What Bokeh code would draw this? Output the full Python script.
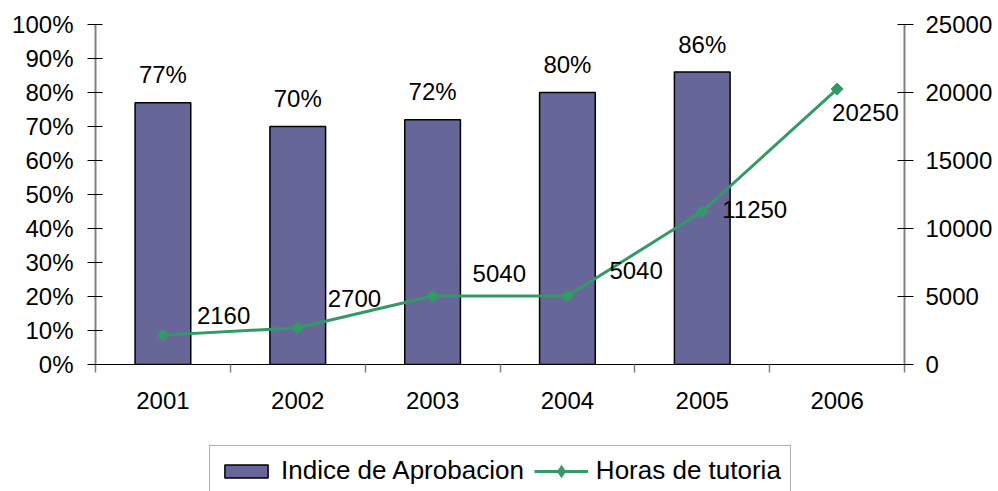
import math
from bokeh.plotting import figure
from bokeh.layouts import column
from bokeh.models import (Range1d, LinearAxis, FixedTicker, NumeralTickFormatter,
                          ColumnDataSource, Legend, LegendItem)
from bokeh.core.properties import value
from bokeh.embed import file_html
from bokeh.resources import INLINE

# ---- data ----
years = ["2001", "2002", "2003", "2004", "2005", "2006"]
approval = [0.77, 0.70, 0.72, 0.80, 0.86]          # Indice de Aprobacion (2001-2005)
approval_labels = ["77%", "70%", "72%", "80%", "86%"]
hours = [2160, 2700, 5040, 5040, 11250, 20250]      # Horas de tutoria
hour_labels = ["2160", "2700", "5040", "5040", "11250", "20250"]
left_ticks = [0, 0.1, 0.2, 0.3, 0.4, 0.5, 0.6, 0.7, 0.8, 0.9, 1.0]
right_ticks = [0, 5000, 10000, 15000, 20000, 25000]
series_names = ["Indice de Aprobacion", "Horas de tutoria"]

# label placement styles (screen px)
hour_label_dx = [34, 30, 40, 42, 20, -5]
hour_label_dy = [-20, -29, -22, -25, -2, 23]

FONT = "Liberation Sans"
BAR = "#666699"
GREEN = "#339966"

xs_bar = list(range(len(approval)))
xs_line = list(range(len(years)))

p = figure(width=998, height=440, output_backend="svg", toolbar_location=None,
           x_range=Range1d(-0.5, len(years) - 0.5), y_range=Range1d(0, 1),
           min_border_left=95, min_border_right=94, min_border_top=24,
           min_border_bottom=76)
p.outline_line_color = None
p.background_fill_color = "white"
p.border_fill_color = "white"
p.xgrid.visible = False
p.ygrid.visible = False
p.extra_y_ranges = {"right": Range1d(0, 25000)}

# x axis
xa = p.xaxis[0]
xa.ticker = FixedTicker(ticks=xs_line,
                        minor_ticks=[i - 0.5 for i in range(len(years) + 1)])
xa.major_label_overrides = {i: y for i, y in enumerate(years)}
xa.major_tick_line_color = None
xa.major_tick_in = 0
xa.major_tick_out = 0
xa.minor_tick_in = 0
xa.minor_tick_out = 8
xa.minor_tick_line_color = "#808080"
xa.minor_tick_line_width = 1.5
xa.axis_line_color = "black"
xa.axis_line_width = 1
xa.major_label_standoff = 19
xa.major_label_text_font = FONT
xa.major_label_text_font_size = "24px"
xa.major_label_text_color = "black"

# left axis
ya = p.yaxis[0]
ya.ticker = FixedTicker(ticks=left_ticks, minor_ticks=[])
ya.formatter = NumeralTickFormatter(format="0%")
ya.major_tick_in = 7
ya.major_tick_out = 8
ya.major_tick_line_color = "black"
ya.minor_tick_line_color = None
ya.axis_line_color = "#808080"
ya.axis_line_width = 2
ya.major_label_standoff = 14
ya.major_label_text_font = FONT
ya.major_label_text_font_size = "24px"
ya.major_label_text_color = "black"

# right axis
ra = LinearAxis(y_range_name="right",
                ticker=FixedTicker(ticks=right_ticks, minor_ticks=[]))
ra.major_tick_in = 7
ra.major_tick_out = 9
ra.major_tick_line_color = "black"
ra.minor_tick_line_color = None
ra.axis_line_color = "#808080"
ra.axis_line_width = 2
ra.major_label_standoff = 12
ra.major_label_text_font = FONT
ra.major_label_text_font_size = "24px"
ra.major_label_text_color = "black"
p.add_layout(ra, "right")

# bars
bar_src = ColumnDataSource(dict(x=xs_bar, y=approval, lab=approval_labels))
bars = p.vbar(x="x", top="y", width=0.413, bottom=0, source=bar_src,
              fill_color=BAR, line_color="black", line_width=1.5)
p.text(x="x", y="y", text="lab", source=bar_src, y_offset=-28,
       text_align="center", text_baseline="middle",
       text_font=value(FONT), text_font_size=value("24px"), text_color="black")

# line
line_src = ColumnDataSource(dict(x=xs_line, y=hours, lab=hour_labels,
                                 dx=hour_label_dx, dy=hour_label_dy))
ln = p.line(x="x", y="y", source=line_src, y_range_name="right",
            line_color=GREEN, line_width=3)
pts = p.scatter(x="x", y="y", source=line_src, y_range_name="right",
                marker="square", size=8.5, angle=math.pi / 4,
                fill_color=GREEN, line_color=GREEN)
p.text(x="x", y="y", text="lab", source=line_src, y_range_name="right",
       x_offset="dx", y_offset="dy", text_align="left", text_baseline="middle",
       text_font=value(FONT), text_font_size=value("24px"), text_color="black")

# legend strip below the chart (proxy glyphs sit outside its visible range)
lg = figure(width=998, height=51, output_backend="svg", toolbar_location=None,
            x_range=Range1d(0, 1), y_range=Range1d(0, 1),
            x_axis_location=None, y_axis_location=None,
            min_border=0)
lg.outline_line_color = None
lg.grid.visible = False
lg.background_fill_color = "white"
lg.border_fill_color = "white"
proxy = ColumnDataSource(dict(x=[0.5, 0.6], y=[-10, -11]))
lb = lg.vbar(x="x", top="y", bottom=-12, width=0.1, source=proxy,
             fill_color=BAR, line_color="black", line_width=1.5)
ll = lg.line(x="x", y="y", source=proxy, line_color=GREEN, line_width=3)
lp = lg.scatter(x="x", y="y", source=proxy, marker="diamond", size=10,
                fill_color=GREEN, line_color=GREEN, line_width=4,
                line_join="miter")

legend = Legend(items=[LegendItem(label=series_names[0], renderers=[lb]),
                       LegendItem(label=series_names[1], renderers=[ll, lp])],
                orientation="horizontal", location=(114, -5))
legend.label_text_font = FONT
legend.label_text_font_size = "26px"
legend.label_text_color = "black"
legend.glyph_width = 54
legend.glyph_height = 16
legend.label_standoff = 8
legend.spacing = 10
legend.padding = 9
legend.margin = 0
legend.border_line_color = "#606060"
legend.border_line_width = 1
legend.background_fill_color = "white"
legend.background_fill_alpha = 1
lg.add_layout(legend)

layout = column(p, lg, spacing=0)
open("out.html", "w").write(file_html(layout, INLINE))
